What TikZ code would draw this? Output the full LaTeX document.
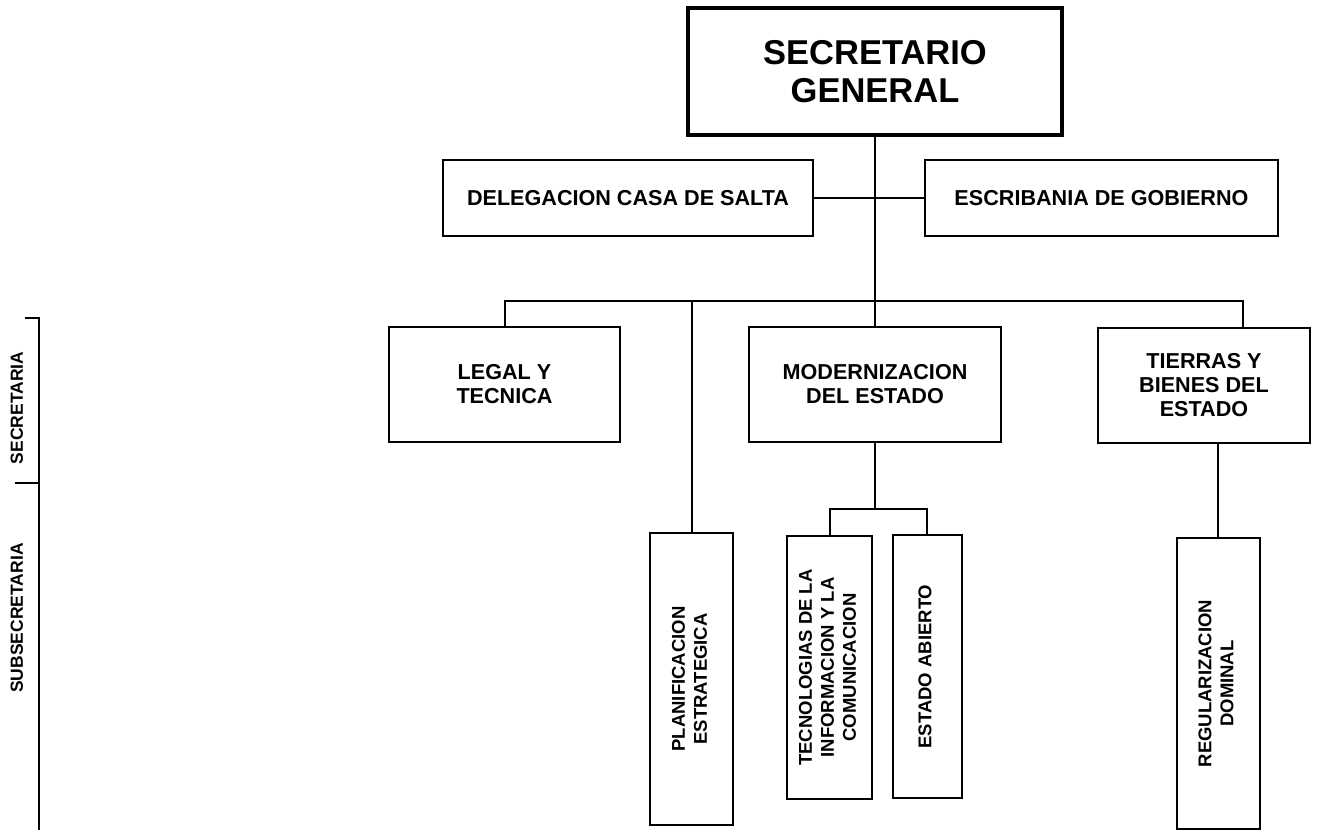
\documentclass[tikz,border=0pt]{standalone}
\usepackage{fontspec}
\setmainfont{Liberation Sans}
\newcommand{\vtext}[1]{\rotatebox{90}{\begin{tabular}{@{}c@{}}#1\end{tabular}}}
\begin{document}
\begin{tikzpicture}[x=1pt, y=-1pt,
        unit/.style={draw, line width=2pt, align=center, inner sep=0pt,
            font=\bfseries\fontsize{21.6}{24}\selectfont},
        vunit/.style={unit, font=\bfseries\fontsize{18.5}{22}\selectfont},
        link/.style={line width=2pt}]
    \useasboundingbox (0,0) rectangle (1320,830);

    % top level
    \node[unit, line width=3.5pt, minimum width=374pt, minimum height=127pt,
        font=\bfseries\fontsize{34.5}{38}\selectfont] (sg) at (875,71.5) {SECRETARIO\\GENERAL};
    \node[unit, minimum width=370pt, minimum height=76pt] (del) at (628,198) {DELEGACION CASA DE SALTA};
    \node[unit, minimum width=353pt, minimum height=76pt] (esc) at (1101.5,198) {ESCRIBANIA DE GOBIERNO};

    % secretarias
    \node[unit, minimum width=231pt, minimum height=115pt] (legal) at (504.5,384.5) {LEGAL Y\\TECNICA};
    \node[unit, minimum width=252pt, minimum height=115pt] (mod) at (875,384.5) {MODERNIZACION\\DEL ESTADO};
    \node[unit, minimum width=212pt, minimum height=115pt] (tierras) at (1204,385.5) {TIERRAS Y\\BIENES DEL\\ESTADO};

    % subsecretarias
    \node[vunit, minimum width=83pt, minimum height=292pt] (plan) at (691.5,679) {\vtext{PLANIFICACION\\ESTRATEGICA}};
    \node[vunit, minimum width=85pt, minimum height=263pt] (tec) at (829.5,667.5) {\vtext{TECNOLOGIAS DE LA\\INFORMACION Y LA\\COMUNICACION}};
    \node[vunit, minimum width=69pt, minimum height=263pt] (est) at (927,666.5) {\vtext{ESTADO ABIERTO}};
    \node[vunit, minimum width=83pt, minimum height=291pt] (reg) at (1218,683.5) {\vtext{REGULARIZACION\\DOMINAL}};

    % connectors
    \coordinate (bus) at (875,301);
    \coordinate (fork) at (875,509);
    \draw[link] (del) -- (esc);
    \draw[link] (sg.south) -- (bus);
    \draw[link] (legal.north) |- (bus) -| ([xshift=39pt]tierras.north);
    \draw[link] (bus) -- (mod.north);
    \draw[link] (plan.north) -- (plan.north |- bus);
    \draw[link] (mod.south) -- (fork);
    \draw[link] (tec.north) |- (fork) -| (est.north);
    \draw[link] (reg.north) -- (reg.north |- tierras.south);

    % levels on the left
    \coordinate (lvtop) at (39,318);
    \coordinate (lvmid) at (39,483);
    \coordinate (lvend) at (39,830);
    \draw[link] ([xshift=-14pt]lvtop) -- (lvtop) -- (lvend);
    \draw[link] ([xshift=-24pt]lvmid) -- (lvmid);
    \node[font=\bfseries\fontsize{17.5}{20}\selectfont] (lsec) at (19,408) {\vtext{SECRETARIA}};
    \node[font=\bfseries\fontsize{17.5}{20}\selectfont] (lsub) at (19,618) {\vtext{SUBSECRETARIA}};
\end{tikzpicture}
\end{document}
